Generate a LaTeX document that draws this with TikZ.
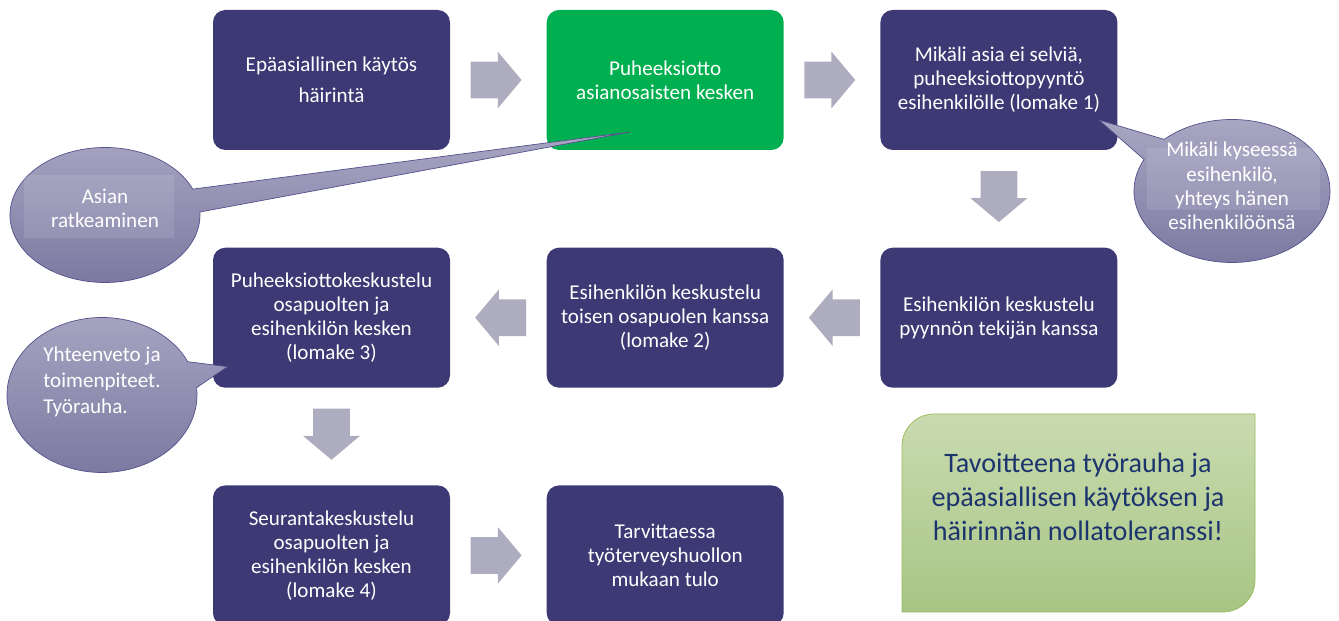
\documentclass[tikz,border=0pt]{standalone}
\usepackage{fontspec}
\setmainfont{Carlito}
\usetikzlibrary{positioning, calc, shapes.arrows, shapes.callouts}

\definecolor{stepblue}{RGB}{61,57,117}
\definecolor{stepgreen}{RGB}{0,176,80}
\definecolor{arrowgray}{RGB}{174,173,191}
\definecolor{bubbletop}{RGB}{168,166,194}
\definecolor{bubblebottom}{RGB}{122,119,160}
\definecolor{bubbleline}{RGB}{84,81,140}
\definecolor{notetop}{RGB}{201,219,176}
\definecolor{notebottom}{RGB}{168,197,132}
\definecolor{noteline}{RGB}{152,186,88}
\definecolor{notetext}{RGB}{28,52,110}

\begin{document}
\begin{tikzpicture}[
    % Clean styles
    stepbox/.style={
        rectangle,
        rounded corners=7pt,
        fill=stepblue,
        text=white,
        minimum width=4.74cm,
        minimum height=2.8cm,
        font=\fontsize{12}{13.6}\selectfont,
        align=center
    },
    greenbox/.style={
        stepbox,
        fill=stepgreen
    },
    flowarrow/.style={
        single arrow,
        single arrow head extend=0.2cm,
        single arrow tip angle=100,
        fill=arrowgray,
        minimum height=1.02cm,
        inner xsep=0pt,
        inner ysep=0.36cm
    },
    bubble/.style={
        ellipse callout,
        callout pointer arc=20,
        top color=bubbletop,
        bottom color=bubblebottom,
        draw=bubbleline,
        inner sep=0pt
    },
    bubbletext/.style={
        text=white,
        font=\fontsize{12}{13.8}\selectfont,
        align=center
    },
    panel/.style={
        fill=white,
        fill opacity=0.1
    }
]
\useasboundingbox (0,0) rectangle (26.78,12.42);

% === Row 1 ===
\node[stepbox] (start) at (6.63, 10.82) {Epäasiallinen käytös\\[4pt] häirintä};
\node[greenbox, right=1.92cm of start] (talk) {Puheeksiotto\\asianosaisten kesken};
\node[stepbox, right=1.92cm of talk] (request) {Mikäli asia ei selviä,\\puheeksiottopyyntö\\esihenkilölle (lomake 1)};

% === Row 2 ===
\node[stepbox, below=1.94cm of request] (askertalk) {Esihenkilön keskustelu\\pyynnön tekijän kanssa};
\node[stepbox, left=1.92cm of askertalk] (othertalk) {Esihenkilön keskustelu\\toisen osapuolen kanssa\\(lomake 2)};
\node[stepbox, left=1.92cm of othertalk] (jointtalk) {Puheeksiottokeskustelu\\osapuolten ja\\esihenkilön kesken\\(lomake 3)};

% === Row 3 ===
\node[stepbox, below=1.94cm of jointtalk] (followup) {Seurantakeskustelu\\osapuolten ja\\esihenkilön kesken\\(lomake 4)};
\node[stepbox, right=1.92cm of followup] (health) {Tarvittaessa\\työterveyshuollon\\mukaan tulo};

% === Block arrows ===
\node[flowarrow] (a1) at ($(start.east)!0.5!(talk.west)+(-0.2,0)$) {};
\node[flowarrow] (a2) at ($(talk.east)!0.5!(request.west)+(-0.2,0)$) {};
\node[flowarrow, rotate=-90] (a3) at ($(request.south)!0.5!(askertalk.north)+(0,0.2)$) {};
\node[flowarrow, rotate=180] (a4) at ($(askertalk.west)!0.5!(othertalk.east)+(0.2,0)$) {};
\node[flowarrow, rotate=180] (a5) at ($(othertalk.west)!0.5!(jointtalk.east)+(0.2,0)$) {};
\node[flowarrow, rotate=-90] (a6) at ($(jointtalk.south)!0.5!(followup.north)+(0,0.2)$) {};
\node[flowarrow] (a7) at ($(followup.east)!0.5!(health.west)+(-0.2,0)$) {};

% === Callouts ===
\coordinate (tipsolved) at ($(talk.center)+(-0.7,-1.04)$);
\coordinate (tipboss) at ($(request.center)+(2.0,-0.8)$);
\coordinate (tipsummary) at ($(jointtalk.center)+(-2.08,-0.98)$);

\node[bubble, minimum width=3.8cm, minimum height=2.7cm,
    callout absolute pointer=(tipsolved)] (solved) at (2.1, 8.12) {};
\fill[panel] ($(solved.center)+(-1.62,-0.46)$) rectangle ($(solved.center)+(1.38,0.8)$);
\node[bubbletext] (solvedtext) at ($(solved.center)+(0,0.14)$) {Asian\\ratkeaminen};

\node[bubble, minimum width=3.92cm, minimum height=2.86cm,
    callout absolute pointer=(tipboss)] (boss) at (24.64, 8.6) {};
\fill[panel] ($(boss.center)+(-1.7,-0.38)$) rectangle ($(boss.center)+(1.76,0.86)$);
\node[bubbletext] (bosstext) at ($(boss.center)+(0,0.1)$)
    {Mikäli kyseessä\\esihenkilö,\\yhteys hänen\\esihenkilöönsä};

\node[bubble, minimum width=3.8cm, minimum height=3.1cm,
    callout absolute pointer=(tipsummary)] (summary) at (2.04, 4.52) {};
\node[bubbletext, align=left, font=\fontsize{12}{14.8}\selectfont] (summarytext)
    at ($(summary.center)+(0,0.26)$) {Yhteenveto ja\\toimenpiteet.\\Työrauha.};

% === Goal note ===
\shade[top color=notetop, bottom color=notebottom, draw=noteline]
    (18.04,0.18) -- (18.04,3.5) arc[start angle=180, end angle=90, radius=0.64]
    -- (25.1,4.14) -- (25.1,0.82) arc[start angle=0, end angle=-90, radius=0.64]
    -- cycle;
\node[text=notetext, font=\fontsize{16}{19.3}\selectfont, align=center] (goal) at (21.56, 2.48)
    {Tavoitteena työrauha ja\\epäasiallisen käytöksen ja\\häirinnän nollatoleranssi!};

\end{tikzpicture}
\end{document}
